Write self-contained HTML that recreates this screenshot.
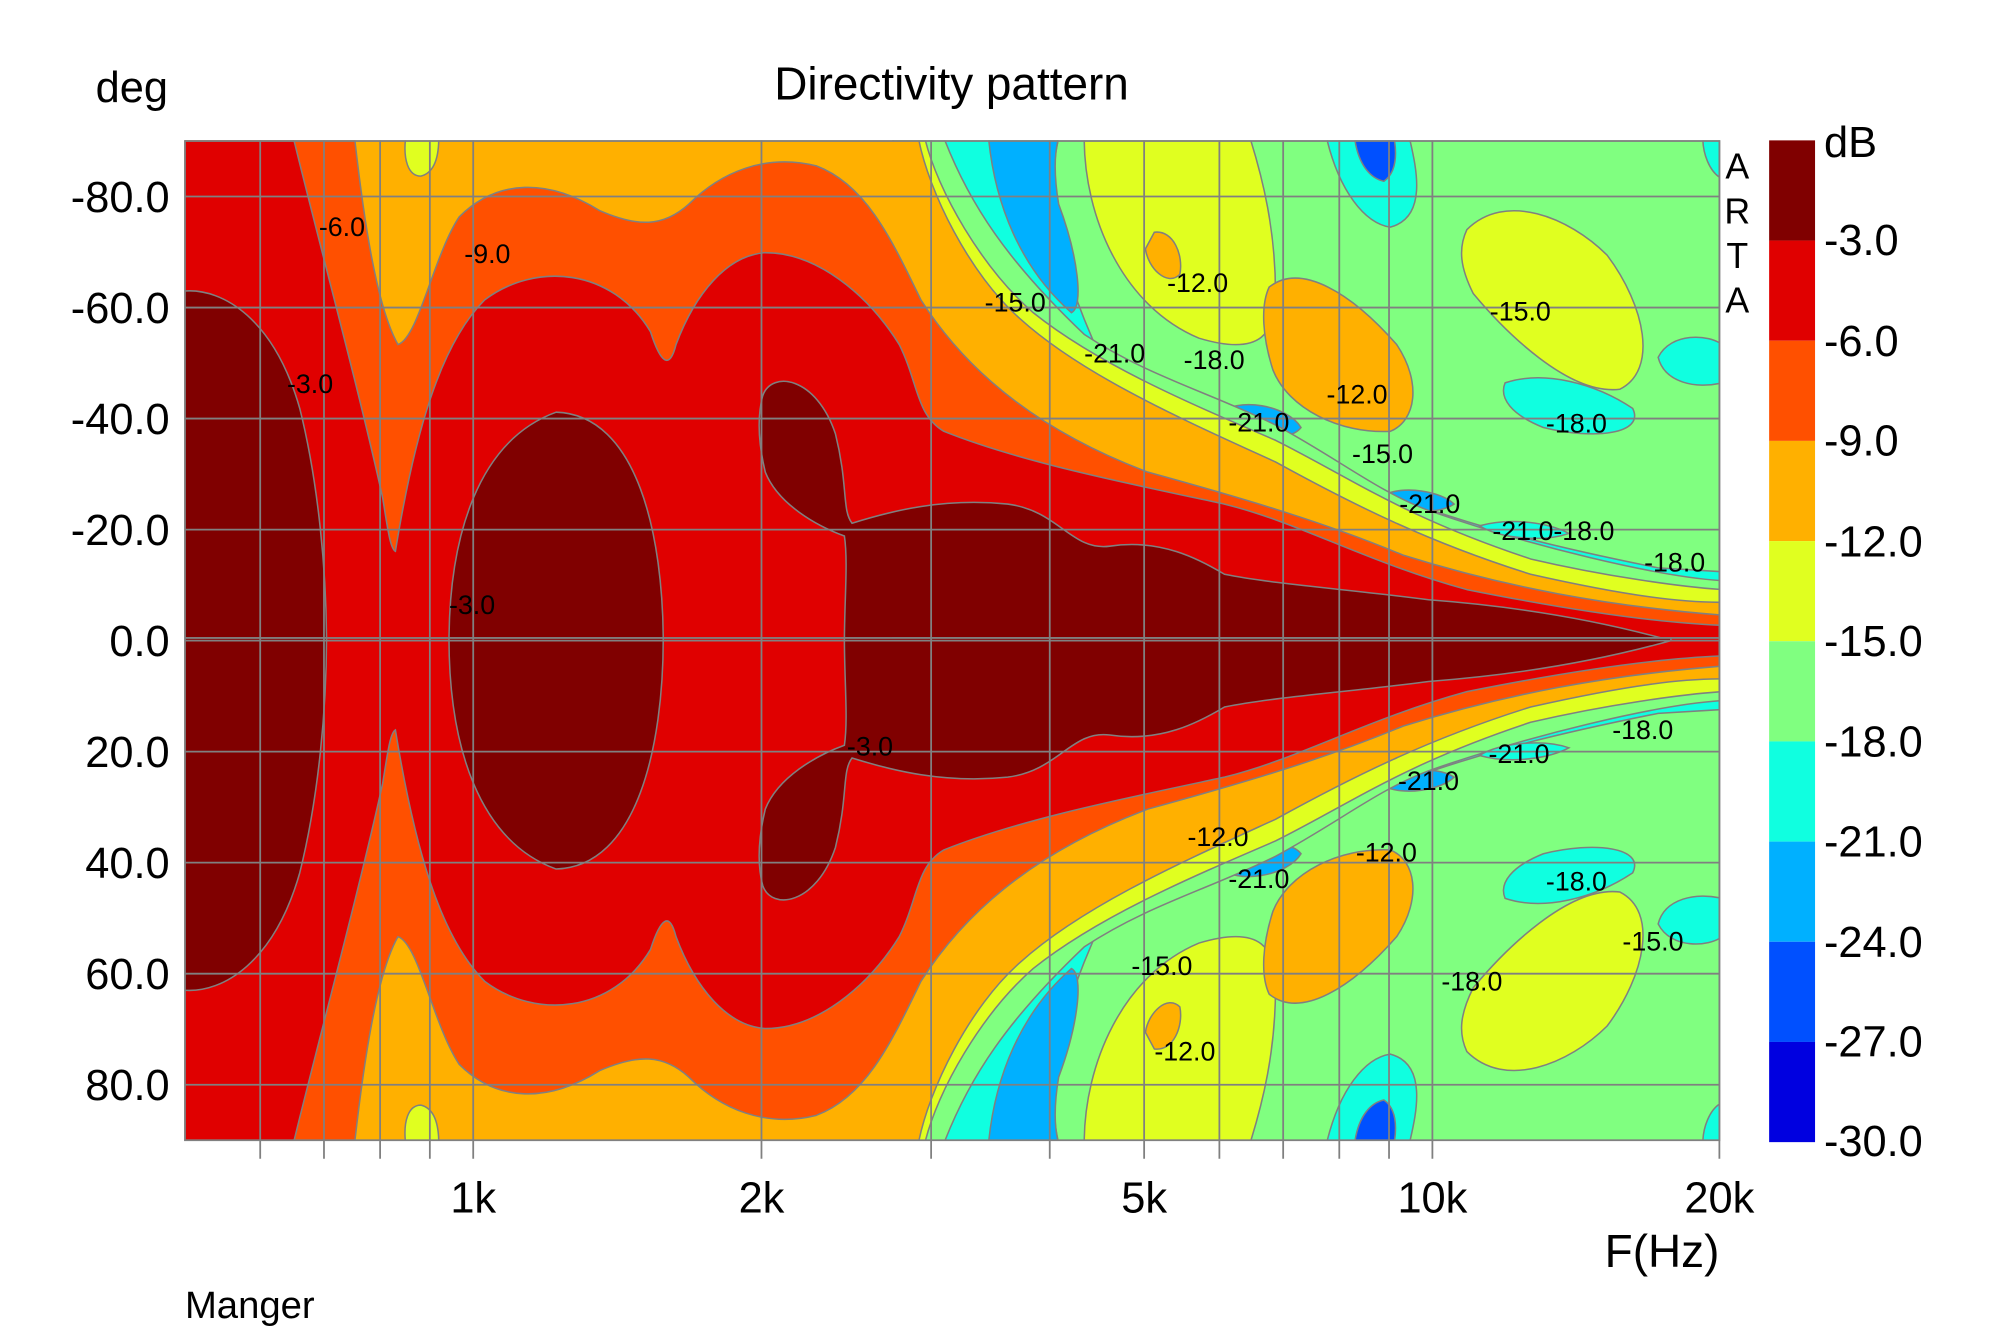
<!DOCTYPE html>
<html><head><meta charset="utf-8"><style>
html,body{margin:0;padding:0;background:#fff;}
svg{display:block;}
text{font-family:"Liberation Sans",sans-serif;}
</style></head><body>
<svg width="2000" height="1331" viewBox="0 0 1568 1043" preserveAspectRatio="none" xmlns="http://www.w3.org/2000/svg">
<defs>
<clipPath id="pc"><rect x="145" y="110" width="1203" height="783"/></clipPath>
<g id="half">
  <!-- base green right -->
  <rect x="700" y="108" width="660" height="396" fill="#80ff80"/>
  <!-- islands -->
  <path d="M728,108 C740,180 760,230 800,260 C830,280 850,290 870,298 L850,250 C830,200 820,150 830,108 Z" fill="#10ffe0" stroke="#808080" stroke-width="1.2"/>
  <path d="M775,108 C780,160 800,210 840,245 C850,240 845,200 830,160 C825,130 828,115 830,108 Z" fill="#00b0ff" stroke="#808080" stroke-width="1.2"/>
  <path d="M850,108 C850,170 880,240 940,265 C990,280 1000,260 1000,230 C1000,180 990,140 980,108 Z" fill="#e0ff20" stroke="#808080" stroke-width="1.2"/>
  <path d="M905,182 C920,180 928,200 925,215 C915,225 900,210 898,195 Z" fill="#ffb000" stroke="#808080" stroke-width="1.2"/>
  <path d="M1040,108 C1050,150 1070,175 1090,178 C1120,170 1110,130 1105,108 Z" fill="#10ffe0" stroke="#808080" stroke-width="1.2"/>
  <path d="M1062,108 C1065,130 1075,140 1085,142 C1095,135 1095,120 1093,108 Z" fill="#0050ff" stroke="#808080" stroke-width="1.2"/>
  <path d="M1150,180 C1180,150 1230,170 1260,200 C1290,240 1300,290 1270,305 C1230,310 1180,260 1155,230 C1145,210 1143,195 1150,180 Z" fill="#e0ff20" stroke="#808080" stroke-width="1.2"/>
  <path d="M1300,280 C1310,260 1340,262 1350,270 L1350,300 C1330,305 1305,300 1300,280 Z" fill="#10ffe0" stroke="#808080" stroke-width="1.2"/>
  <path d="M1335,108 L1350,108 L1350,140 C1340,135 1335,120 1335,108 Z" fill="#10ffe0" stroke="#808080" stroke-width="1.2"/>
  <path d="M1180,300 C1210,290 1250,300 1280,320 C1290,340 1250,345 1210,335 C1185,325 1175,312 1180,300 Z" fill="#10ffe0" stroke="#808080" stroke-width="1.2"/>
  <path d="M955,325 C970,310 1010,318 1020,335 C1010,348 970,345 955,325 Z" fill="#00b0ff" stroke="#808080" stroke-width="1.2"/>
  <!-- >=-18 green envelope handled by base; cyan band near axis -->
  <path d="M870,300 C920,318 960,330 1000,345 C1050,365 1080,385 1100,392 C1150,410 1200,425 1300,445 L1350,448 L1350,504 L860,504 Z" fill="#10ffe0" stroke="#808080" stroke-width="1.2"/>
  <path d="M1085,388 C1100,380 1130,385 1140,395 C1125,405 1095,400 1085,388 Z" fill="#00b0ff" stroke="#808080" stroke-width="1.2"/>
  <path d="M740,108 C760,160 790,205 850,262 C900,295 950,308 1000,333 C1050,360 1080,385 1120,400 C1200,428 1300,452 1350,455 L1350,504 L700,504 L700,108 Z" fill="#80ff80" stroke="#808080" stroke-width="1.2"/>
  <path d="M1160,412 C1185,405 1215,410 1230,418 C1210,425 1175,422 1160,412 Z" fill="#10ffe0" stroke="#808080" stroke-width="1.2"/>
  <path d="M725,108 C735,150 770,210 810,245 C860,285 930,315 1000,345 C1060,375 1100,405 1200,438 C1260,452 1320,460 1350,462 L1350,504 L700,504 L700,108 Z" fill="#e0ff20" stroke="#808080" stroke-width="1.2"/>
  <!-- orange-yellow island -->
  <path d="M995,225 C1020,205 1060,230 1095,270 C1115,300 1110,330 1090,338 C1050,340 1010,320 998,290 C990,265 988,240 995,225 Z" fill="#ffb000" stroke="#808080" stroke-width="1.2"/>
  <!-- >= -12 : ffb000 -->
  <path d="M278,108 L720,108 C728,150 760,215 800,250 C850,295 930,330 1000,362 C1060,395 1120,425 1200,450 C1280,468 1320,472 1350,472 L1350,504 L145,504 L145,108 Z" fill="#ffb000" stroke="#808080" stroke-width="1.2"/>
  <path d="M318,108 C316,125 320,138 330,138 C342,135 344,120 344,108 Z" fill="#e0ff20" stroke="#808080" stroke-width="1.2"/>
  <!-- >= -9 : ff5000 -->
  <path d="M230,108 L278,108 C285,170 295,240 312,270 C328,265 340,200 360,170 C390,140 430,140 470,165 C500,178 520,178 540,160 C565,135 600,120 640,130 C680,145 700,190 722,235 C760,295 820,340 900,370 C980,392 1040,410 1100,435 C1180,460 1260,475 1350,482 L1350,504 L145,504 L145,108 Z" fill="#ff5000" stroke="#808080" stroke-width="1.2"/>
  <!-- >= -6 : red (left part and right) -->
  <path d="M145,108 L230,108 C250,190 280,300 300,390 C304,415 306,430 310,432 C325,340 345,270 380,235 C420,205 480,210 510,260 C518,285 525,290 530,270 C545,230 570,200 600,198 C640,198 680,230 705,270 C720,300 718,325 740,338 C800,362 880,378 960,395 C1020,410 1070,440 1150,462 C1230,478 1300,488 1350,490 L1350,504 L145,504 Z" fill="#e00000" stroke="#808080" stroke-width="1.2"/>
  <!-- >= -3 dark red -->
  <path d="M145,228 C175,226 215,250 235,320 C250,380 256,450 256,504 L145,504 Z" fill="#800000" stroke="#808080" stroke-width="1.2"/>
  <path d="M352,504 C352,420 375,345 436,323 C500,325 520,420 520,504 Z" fill="#800000" stroke="#808080" stroke-width="1.2"/>
  <path d="M598,310 C605,290 640,295 655,340 C665,380 660,400 668,410 C700,400 740,390 790,395 C830,400 840,432 870,428 C910,422 940,438 960,450 C1000,458 1060,462 1120,470 C1200,476 1260,488 1310,502 L1310,504 L662,504 C662,470 665,440 662,420 C640,412 610,395 600,370 C594,345 594,325 598,310 Z" fill="#800000" stroke="#808080" stroke-width="1.2"/>
</g>
</defs>
<g clip-path="url(#pc)">
  <rect x="145" y="110" width="1203" height="783" fill="#e00000"/>
  <use href="#half"/>
  <use href="#half" transform="translate(0,1004) scale(1,-1)"/>
</g>
<!-- grid -->
<g stroke="#808080" stroke-width="1.4" fill="none">
  <rect x="145" y="110.5" width="1203" height="783"/>
  <line x1="145" y1="154" x2="1348" y2="154"/><line x1="145" y1="241" x2="1348" y2="241"/>
  <line x1="145" y1="328" x2="1348" y2="328"/><line x1="145" y1="415" x2="1348" y2="415"/>
  <line x1="145" y1="502" x2="1348" y2="502"/><line x1="145" y1="589" x2="1348" y2="589"/>
  <line x1="145" y1="676" x2="1348" y2="676"/><line x1="145" y1="763" x2="1348" y2="763"/>
  <line x1="145" y1="850" x2="1348" y2="850"/>
  <line x1="204" y1="110" x2="204" y2="908"/><line x1="254" y1="110" x2="254" y2="908"/>
  <line x1="298" y1="110" x2="298" y2="908"/><line x1="337" y1="110" x2="337" y2="908"/>
  <line x1="371" y1="110" x2="371" y2="908"/><line x1="597" y1="110" x2="597" y2="908"/>
  <line x1="730" y1="110" x2="730" y2="908"/><line x1="823" y1="110" x2="823" y2="908"/>
  <line x1="897" y1="110" x2="897" y2="908"/><line x1="956" y1="110" x2="956" y2="908"/>
  <line x1="1006" y1="110" x2="1006" y2="908"/><line x1="1050" y1="110" x2="1050" y2="908"/>
  <line x1="1089" y1="110" x2="1089" y2="908"/><line x1="1123" y1="110" x2="1123" y2="908"/>
  <line x1="1348" y1="110" x2="1348" y2="908"/>
</g>
<!-- contour labels -->
<g font-size="21" fill="#000">
  <text x="250" y="185">-6.0</text><text x="364" y="206">-9.0</text><text x="225" y="308">-3.0</text>
  <text x="352" y="481">-3.0</text><text x="664" y="592">-3.0</text>
  <text x="772" y="244">-15.0</text><text x="915" y="229">-12.0</text><text x="850" y="284">-21.0</text>
  <text x="928" y="289">-18.0</text><text x="963" y="338">-21.0</text><text x="1040" y="316">-12.0</text>
  <text x="1060" y="363">-15.0</text><text x="1097" y="402">-21.0</text><text x="1168" y="251">-15.0</text>
  <text x="1212" y="339">-18.0</text><text x="1170" y="423">-21.0-18.0</text><text x="1289" y="448">-18.0</text>
  <text x="1264" y="579">-18.0</text><text x="1167" y="598">-21.0</text><text x="1096" y="619">-21.0</text>
  <text x="931" y="663">-12.0</text><text x="963" y="696">-21.0</text><text x="1063" y="675">-12.0</text>
  <text x="1212" y="698">-18.0</text><text x="1272" y="745">-15.0</text><text x="887" y="764">-15.0</text>
  <text x="1130" y="776">-18.0</text><text x="905" y="831">-12.0</text>
</g>
<!-- axes text -->
<text x="746" y="78" font-size="36" text-anchor="middle">Directivity pattern</text>
<text x="75" y="80" font-size="34">deg</text>
<g font-size="34" text-anchor="end">
  <text x="133" y="166">-80.0</text><text x="133" y="253">-60.0</text><text x="133" y="340">-40.0</text>
  <text x="133" y="427">-20.0</text><text x="133" y="514">0.0</text><text x="133" y="601">20.0</text>
  <text x="133" y="688">40.0</text><text x="133" y="775">60.0</text><text x="133" y="862">80.0</text>
</g>
<g font-size="34" text-anchor="middle">
  <text x="371" y="950">1k</text><text x="597" y="950">2k</text><text x="897" y="950">5k</text>
  <text x="1123" y="950">10k</text><text x="1348" y="950">20k</text>
</g>
<text x="1348" y="993" font-size="36" text-anchor="end">F(Hz)</text>
<text x="145" y="1033" font-size="30">Manger</text>
<g font-size="28" text-anchor="middle"><text x="1362" y="140">A</text><text x="1362" y="175">R</text><text x="1362" y="210">T</text><text x="1362" y="245">A</text></g>
<!-- colorbar -->
<g>
  <rect x="1387" y="110" width="36" height="78.5" fill="#800000"/>
  <rect x="1387" y="188.5" width="36" height="78.5" fill="#e00000"/>
  <rect x="1387" y="267" width="36" height="78.5" fill="#ff5000"/>
  <rect x="1387" y="345.5" width="36" height="78.5" fill="#ffb000"/>
  <rect x="1387" y="424" width="36" height="78.5" fill="#e0ff20"/>
  <rect x="1387" y="502.5" width="36" height="78.5" fill="#80ff80"/>
  <rect x="1387" y="581" width="36" height="78.5" fill="#10ffe0"/>
  <rect x="1387" y="659.5" width="36" height="78.5" fill="#00b0ff"/>
  <rect x="1387" y="738" width="36" height="78.5" fill="#0050ff"/>
  <rect x="1387" y="816.5" width="36" height="78.5" fill="#0000e0"/>
</g>
<g font-size="34">
  <text x="1430" y="123">dB</text>
  <text x="1430" y="200">-3.0</text><text x="1430" y="279">-6.0</text><text x="1430" y="357">-9.0</text>
  <text x="1430" y="436">-12.0</text><text x="1430" y="514">-15.0</text><text x="1430" y="593">-18.0</text>
  <text x="1430" y="671">-21.0</text><text x="1430" y="750">-24.0</text><text x="1430" y="828">-27.0</text>
  <text x="1430" y="906">-30.0</text>
</g>
</svg>
</body></html>
